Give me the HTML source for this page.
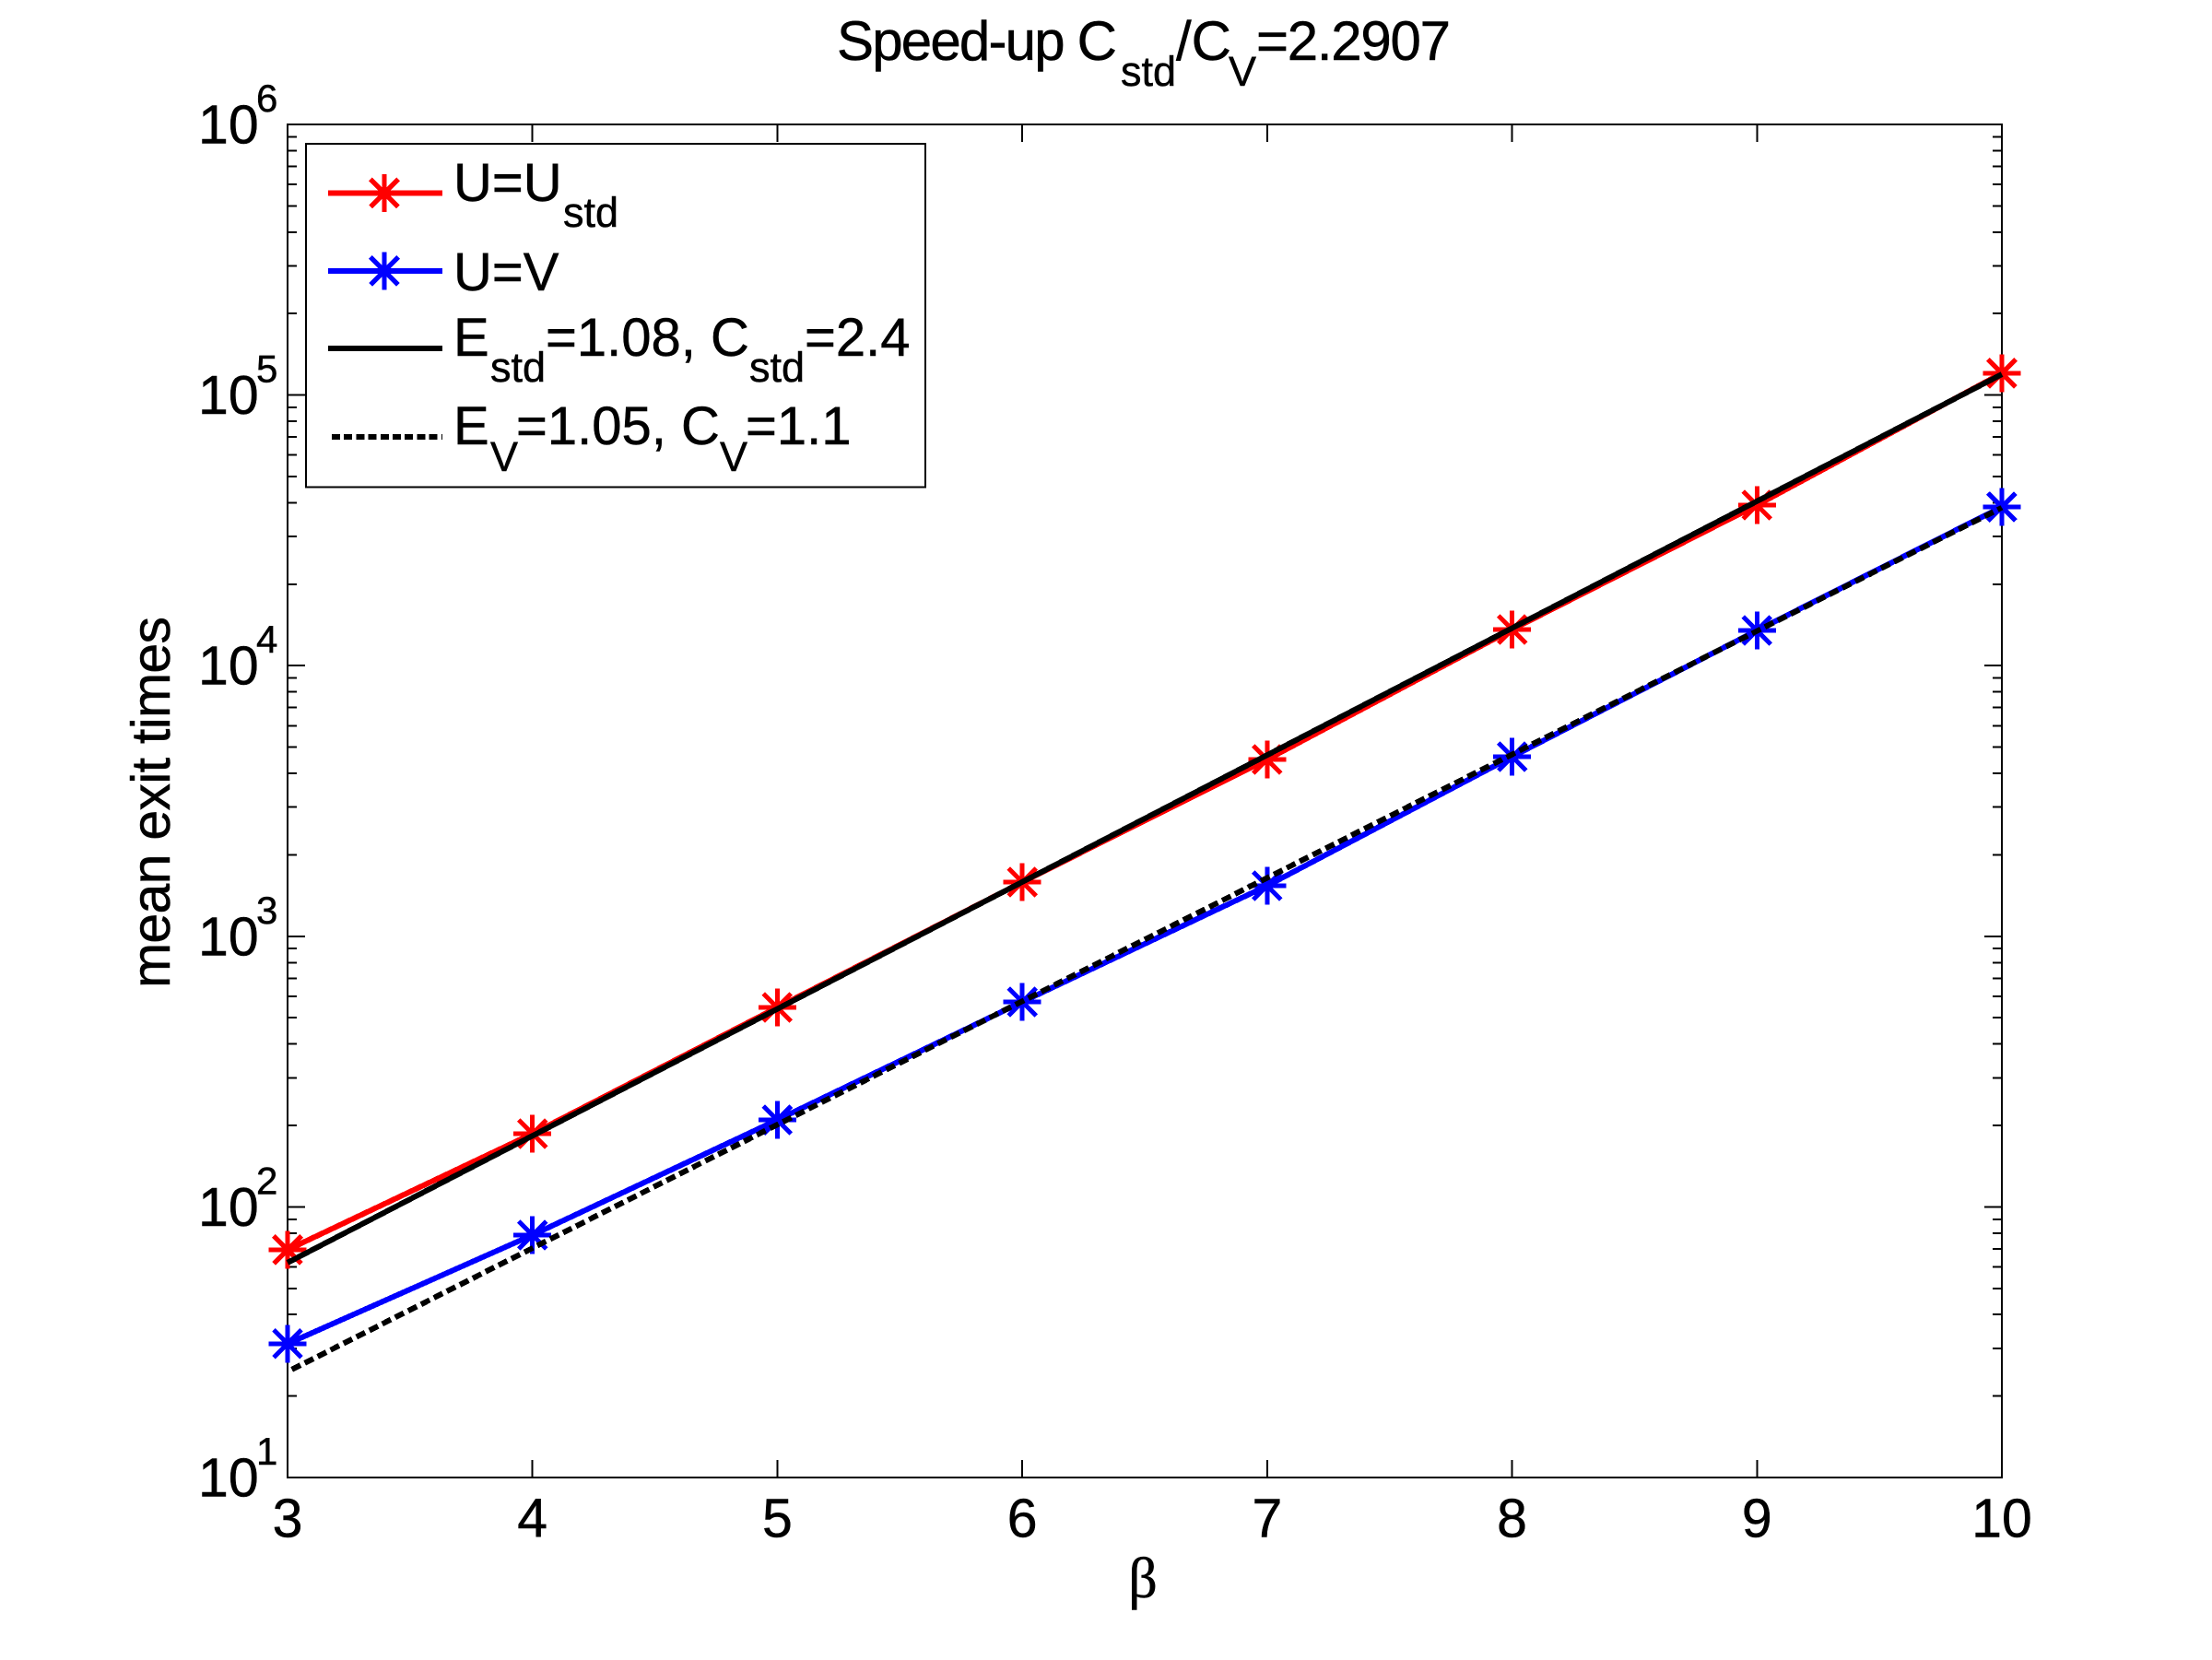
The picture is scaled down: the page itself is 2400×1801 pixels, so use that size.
<!DOCTYPE html>
<html lang="en">
<head>
<meta charset="utf-8">
<title>Speed-up chart</title>
<style>
html,body{margin:0;padding:0;background:#fff}
svg{display:block}
text{font-family:"Liberation Sans",Arial,sans-serif;fill:#000;stroke:#000;stroke-width:.5px}
</style>
</head>
<body>
<svg id="chart" xmlns="http://www.w3.org/2000/svg" width="2400" height="1801" viewBox="0 0 2400 1801">
  <rect x="0" y="0" width="2400" height="1801" fill="#fff"/>
  <g id="plot"></g>
  <g font-size="60">
    <text x="908" y="65" textLength="304" lengthAdjust="spacing">Speed-up C</text>
    <text x="1216" y="93" font-size="45">std</text>
    <text x="1276" y="65">/C</text>
    <text x="1333" y="93" font-size="45">V</text>
    <text x="1363" y="65" textLength="211" lengthAdjust="spacing">=2.2907</text>
  </g>
  <text font-size="59" transform="translate(184 1072) rotate(-90)" textLength="403" lengthAdjust="spacing">mean exit times</text>
  <text x="1240" y="1733" text-anchor="middle" font-size="62" style="font-family:'Liberation Serif',serif">β</text>
  <g id="legend">
    <rect x="332" y="156" width="672" height="372.5" fill="#fff" stroke="#000" stroke-width="2" shape-rendering="crispEdges"/>
    <line x1="356" y1="209.5" x2="480" y2="209.5" stroke="#f00" stroke-width="6" shape-rendering="crispEdges"/>
    <line x1="356" y1="294" x2="480" y2="294" stroke="#00f" stroke-width="6" shape-rendering="crispEdges"/>
    <line x1="356" y1="378" x2="480" y2="378" stroke="#000" stroke-width="6" shape-rendering="crispEdges"/>
    <line x1="360" y1="474" x2="480" y2="474" stroke="#000" stroke-width="6" stroke-dasharray="9 4.2" shape-rendering="crispEdges"/>
    <g font-size="58">
      <text x="492" y="218">U=U</text>
      <text x="611" y="246" font-size="45">std</text>
    </g>
    <g font-size="58">
      <text x="492" y="315">U=V</text>
    </g>
    <g font-size="58">
      <text x="492" y="386">E</text>
      <text x="532" y="414" font-size="45">std</text>
      <text x="592" y="386">=1.08, C</text>
      <text x="813" y="414" font-size="45">std</text>
      <text x="873" y="386">=2.4</text>
    </g>
    <g font-size="58">
      <text x="492" y="482">E</text>
      <text x="532" y="511" font-size="45">V</text>
      <text x="560" y="482">=1.05, C</text>
      <text x="781" y="511" font-size="45">V</text>
      <text x="809" y="482">=1.1</text>
    </g>
  </g>
</svg>
<script>
var betaValues = [3, 4, 5, 6, 7, 8, 9, 10];
var exitTimesStd = [69.4, 186.4, 545.8, 1586, 4501, 13600, 39200, 120340];
var exitTimesV = [31.2, 78.7, 209.6, 572, 1537, 4607, 13490, 38590];
var fitStd = [62.2, 183.1, 539, 1587, 4673, 13760, 40510, 119300];
var fitV = [24.6, 70.4, 201.3, 575.3, 1644, 4699, 13430, 38370];
var xTickLabels = [3, 4, 5, 6, 7, 8, 9, 10];
var yTickExponents = [1, 2, 3, 4, 5, 6];
var minorMultipliers = [2, 3, 4, 5, 6, 7, 8, 9];

var NS = 'http://www.w3.org/2000/svg';
var L = 312, R = 2172, T = 135, B = 1603;
var plot = document.getElementById('plot');
var legend = document.getElementById('legend');

function xScale(b) {
  return L + (b - 3) * (R - L) / 7;
}
function yScale(v) {
  return B - (Math.log10(v) - 1) * (B - T) / 5;
}
function mk(tag, attrs, parent) {
  var el = document.createElementNS(NS, tag);
  for (var k in attrs) el.setAttribute(k, attrs[k]);
  parent.appendChild(el);
  return el;
}
function tickLine(x1, y1, x2, y2) {
  var el = mk('line', {x1: x1, y1: y1, x2: x2, y2: y2, stroke: '#000', 'stroke-width': 2, 'shape-rendering': 'crispEdges'}, plot);
  
  
}

var frame = mk('rect', {x: L, y: T, width: R - L, height: B - T, fill: '#fff', stroke: '#000', 'stroke-width': 2, 'shape-rendering': 'crispEdges'}, plot);



xTickLabels.forEach(function (b) {
  var x = xScale(b);
  if (b > 3 && b < 10) {
    tickLine(x, B, x, B - 19);
    tickLine(x, T, x, T + 19);
  }
  var t = mk('text', {x: x, y: 1667.5, 'text-anchor': 'middle', 'font-size': 59}, plot);
  
  
  t.textContent = b;
});

yTickExponents.forEach(function (e) {
  var y = yScale(Math.pow(10, e));
  if (e > 1 && e < 6) {
    tickLine(L, y, L + 19, y);
    tickLine(R, y, R - 19, y);
  }
  if (e < 6) {
    minorMultipliers.forEach(function (m) {
      var ym = yScale(m * Math.pow(10, e));
      tickLine(L, ym, L + 10, ym);
      tickLine(R, ym, R - 10, ym);
    });
  }
  var base = mk('text', {x: 215, y: y + 20.5, 'font-size': 59}, plot);
  
  
  base.textContent = '10';
  var ex = mk('text', {x: 278, y: y - 14, 'font-size': 42}, plot);
  
  
  ex.textContent = e;
});

function drawLine(values, color, name, dash) {
  var pts = values.map(function (v, i) {
    return xScale(betaValues[i]).toFixed(2) + ',' + yScale(v).toFixed(2);
  }).join(' ');
  var attrs = {points: pts, fill: 'none', stroke: color, 'stroke-width': 6, 'stroke-linejoin': 'round', 'shape-rendering': 'crispEdges'};
  if (dash) {
    attrs['stroke-dasharray'] = '10.5 5.2';
    attrs['stroke-dashoffset'] = '10.5';
  }
  var el = mk('polyline', attrs, plot);
  
  
}
function drawStar(parent, cx, cy, color) {
  var g = mk('g', {stroke: color, 'stroke-width': 5, 'shape-rendering': 'crispEdges'}, parent);
  
  
  mk('line', {x1: cx - 20.5, y1: cy, x2: cx + 20.5, y2: cy}, g);
  mk('line', {x1: cx, y1: cy - 20.5, x2: cx, y2: cy + 20.5}, g);
  mk('line', {x1: cx - 15, y1: cy - 15, x2: cx + 15, y2: cy + 15}, g);
  mk('line', {x1: cx - 15, y1: cy + 15, x2: cx + 15, y2: cy - 15}, g);
}

drawLine(exitTimesStd, '#f00', 'series-u-std-line', false);
exitTimesStd.forEach(function (v, i) {
  drawStar(plot, xScale(betaValues[i]), yScale(v), '#f00');
});
drawLine(exitTimesV, '#00f', 'series-u-v-line', false);
exitTimesV.forEach(function (v, i) {
  drawStar(plot, xScale(betaValues[i]), yScale(v), '#00f');
});
drawLine(fitStd, '#000', 'fit-std-line', false);
drawLine(fitV, '#000', 'fit-v-line', true);

drawStar(legend, 417, 209.5, '#f00');
drawStar(legend, 417, 294, '#00f');
</script>
</body>
</html>
